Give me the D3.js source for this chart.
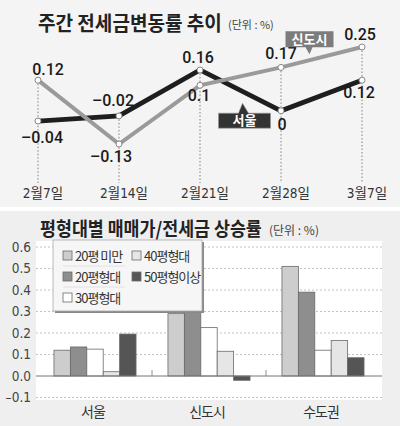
<!DOCTYPE html>
<html>
<head>
<meta charset="utf-8">
<script src="https://cdn.jsdelivr.net/npm/d3@7"></script>
<style>
    html, body { margin: 0; padding: 0; background: #fff; }
    text { font-family: "Noto Sans CJK KR", sans-serif; }
    .num { font-family: Roboto, "Liberation Sans", sans-serif; font-weight: 500; }
    .cond { font-family: "Liberation Sans Narrow", "DejaVu Sans Condensed", "Noto Sans CJK KR", sans-serif; font-stretch: condensed; }
</style>
</head>
<body>
<div id="draw"></div>
<script>
// weekly jeonse change (top)
var weeks = ['2월7일', '2월14일', '2월21일', '2월28일', '3월7일'];
var seoul = [-0.04, -0.02, 0.16, 0, 0.12];
var newTown = [0.12, -0.13, 0.1, 0.17, 0.25];

// rise by apartment size (bottom)
var regions = ['서울', '신도시', '수도권'];
var sizes = ['20평 미만', '20평형대', '30평형대', '40평형대', '50평형이상'];
var under20 = [0.12, 0.29, 0.51];
var size20s = [0.135, 0.34, 0.39];
var size30s = [0.125, 0.225, 0.12];
var size40s = [0.02, 0.115, 0.165];
var over50 = [0.195, -0.02, 0.085];
var yTicks = [-0.1, 0.0, 0.1, 0.2, 0.3, 0.4, 0.5, 0.6];

(function () {
    "use strict";

    var W = 400, H = 426;

    var svg = d3.select('#draw').append('svg')
        .attr('width', W).attr('height', H);

    // panels
    svg.append('rect').attr('x', 0).attr('y', 0).attr('width', W).attr('height', 207).attr('fill', '#f4f4f4');
    svg.append('rect').attr('x', 0).attr('y', 211).attr('width', W).attr('height', H - 211).attr('fill', '#efefef');

    /**
     * Bold headline squeezed horizontally to a given width
     */
    function headline(g, str, x0, y0, size, width) {
        var t = g.append('text')
            .attr('font-size', size).attr('font-weight', 700).attr('fill', '#222')
            .text(str);
        var len = t.node().getComputedTextLength(),
            sx = len > 0 ? width / len : 1;
        t.attr('transform', 'translate(' + x0 + ',' + y0 + ') scale(' + sx + ',1)');
        return t;
    }

    /* ---------- top: line chart ---------- */
    var top = svg.append('g');

    headline(top, '주간 전세금변동률 추이', 38, 31, 20, 184);
    top.append('text').attr('x', 228).attr('y', 29)
        .attr('font-size', 11).attr('fill', '#444')
        .text('(단위 : %)');

    var x = d3.scalePoint().domain(weeks).range([38, 362]);
    var y = d3.scaleLinear().domain([-0.13, 0.25]).range([144, 47]);

    // dotted guides
    top.selectAll('line.guide').data(weeks).enter().append('line')
        .attr('x1', function (d) { return x(d); })
        .attr('x2', function (d) { return x(d); })
        .attr('y1', function (d, i) { return Math.min(y(seoul[i]), y(newTown[i])); })
        .attr('y2', 183)
        .attr('stroke', '#666').attr('stroke-width', 0.8)
        .attr('stroke-dasharray', '1.5,2');

    top.selectAll('text.week').data(weeks).enter().append('text')
        .attr('class', 'cond')
        .attr('x', function (d) { return x(d) + 5; })
        .attr('y', 198)
        .attr('text-anchor', 'middle')
        .attr('font-size', 13.5).attr('fill', '#333')
        .text(function (d) { return d; });

    var line = d3.line()
        .x(function (d, i) { return x(weeks[i]); })
        .y(function (d) { return y(d); });

    top.append('path').datum(seoul).attr('d', line)
        .attr('fill', 'none').attr('stroke', '#1e1e1e').attr('stroke-width', 4.8)
        .attr('stroke-linejoin', 'miter');
    top.append('path').datum(newTown).attr('d', line)
        .attr('fill', 'none').attr('stroke', '#9a9a9a').attr('stroke-width', 4)
        .attr('stroke-linejoin', 'miter');

    [seoul, newTown].forEach(function (s) {
        top.selectAll(null).data(s).enter().append('circle')
            .attr('cx', function (d, i) { return x(weeks[i]); })
            .attr('cy', function (d) { return y(d); })
            .attr('r', 3)
            .attr('fill', '#fff').attr('stroke', '#888').attr('stroke-width', 1);
    });

    // label nudges: [dx, dy]
    var seoulOff = [[4, 22], [-6, -10], [-2, -7], [1, 19], [-3, 18]];
    var newTownOff = [[10, -5], [-8, 18], [-1, 16], [0, -8], [-2, -7]];

    function fmt(v) {
        return v < 0 ? '–' + String(-v) : String(v);
    }

    [[seoul, seoulOff], [newTown, newTownOff]].forEach(function (p) {
        top.selectAll(null).data(p[0]).enter().append('text')
            .attr('class', 'num')
            .attr('x', function (d, i) { return x(weeks[i]) + p[1][i][0]; })
            .attr('y', function (d, i) { return y(d) + p[1][i][1]; })
            .attr('text-anchor', 'middle')
            .attr('font-size', 16).attr('fill', '#1a1a1a')
            .text(fmt);
    });

    // callouts
    var cx1 = (x(weeks[3]) + x(weeks[4])) / 2 - 12;
    var cy1 = y(0.19);
    var tag1 = top.append('g').attr('transform', 'translate(' + cx1 + ',' + cy1 + ')');
    tag1.append('path')
        .attr('d', 'M-24,-31 H24 V-15 H3 L0,-8 L-4,-15 H-24 Z')
        .attr('fill', '#7c7c7c');
    tag1.append('text').attr('x', 0).attr('y', -18.5)
        .attr('text-anchor', 'middle').attr('font-size', 13).attr('font-weight', 700)
        .attr('fill', '#fff').text('신도시');

    var cx2 = (x(weeks[2]) + x(weeks[3])) / 2 + 3;
    var cy2 = y(0.03);
    var tag2 = top.append('g').attr('transform', 'translate(' + cx2 + ',' + cy2 + ')');
    tag2.append('path')
        .attr('d', 'M-25,10 H-5 L-1,0 L5,10 H27 V25 H-25 Z')
        .attr('fill', '#333').attr('stroke', '#999').attr('stroke-width', 0.6);
    tag2.append('text').attr('x', 1).attr('y', 22)
        .attr('text-anchor', 'middle').attr('font-size', 13).attr('font-weight', 700)
        .attr('fill', '#fff').text('서울');

    /* ---------- bottom: grouped bars ---------- */
    var bot = svg.append('g');

    headline(bot, '평형대별 매매가/전세금 상승률', 40, 236, 19, 222);
    bot.append('text').attr('x', 269).attr('y', 235)
        .attr('font-size', 12).attr('fill', '#444')
        .text('(단위 : %)');

    var plot = { left: 36, right: 382, top: 241, bottom: 400 };
    bot.append('rect')
        .attr('x', plot.left).attr('y', plot.top)
        .attr('width', plot.right - plot.left).attr('height', plot.bottom - plot.top)
        .attr('fill', '#fff');

    var yb = d3.scaleLinear().domain([-0.1, 0.6]).range([397.5, 247]);
    var x0 = d3.scaleBand().domain(regions).range([38, 380]).paddingInner(0.28).paddingOuter(0.14);
    var x1 = d3.scaleBand().domain(sizes).range([0, x0.bandwidth()]);

    bot.selectAll('line.grid').data(yTicks.filter(function (t) { return t !== 0; })).enter().append('line')
        .attr('x1', plot.left).attr('x2', plot.right)
        .attr('y1', function (d) { return yb(d); })
        .attr('y2', function (d) { return yb(d); })
        .attr('stroke', '#aaa').attr('stroke-width', 0.7).attr('stroke-dasharray', '2,2');

    bot.selectAll('text.ytick').data(yTicks).enter().append('text')
        .attr('class', 'cond')
        .attr('x', 31).attr('y', function (d) { return yb(d) + 4.5; })
        .attr('text-anchor', 'end').attr('font-size', 13.5).attr('fill', '#444')
        .text(function (d) { return d < 0 ? '–' + (-d).toFixed(1) : d.toFixed(1); });

    var series = [under20, size20s, size30s, size40s, over50];
    var colors = ['#cdcdcd', '#8e8e8e', '#ffffff', '#e6e6e6', '#555555'];

    regions.forEach(function (r, ri) {
        bot.selectAll(null).data(series).enter().append('rect')
            .attr('x', function (s, si) { return x0(r) + x1(sizes[si]); })
            .attr('y', function (s) { return yb(Math.max(0, s[ri])); })
            .attr('width', x1.bandwidth())
            .attr('height', function (s) { return Math.abs(yb(s[ri]) - yb(0)); })
            .attr('fill', function (s, si) { return colors[si]; })
            .attr('stroke', '#6a6a6a').attr('stroke-width', 0.8);
    });

    // zero line and group dividers
    bot.append('line')
        .attr('x1', plot.left).attr('x2', plot.right)
        .attr('y1', yb(0)).attr('y2', yb(0))
        .attr('stroke', '#777').attr('stroke-width', 1);
    bot.selectAll('line.div').data(regions.slice(1)).enter().append('line')
        .attr('x1', function (d) { return x0(d) - x0.step() * x0.paddingInner() / 2; })
        .attr('x2', function (d) { return x0(d) - x0.step() * x0.paddingInner() / 2; })
        .attr('y1', yb(0) - 6).attr('y2', yb(0))
        .attr('stroke', '#777').attr('stroke-width', 0.8);

    bot.selectAll('text.region').data(regions).enter().append('text')
        .attr('x', function (d) { return x0(d) + x0.bandwidth() / 2 - 2; })
        .attr('y', 417)
        .attr('text-anchor', 'middle').attr('font-size', 14).attr('fill', '#333')
        .attr('letter-spacing', -1)
        .text(function (d) { return d; });

    // legend
    var lg = bot.append('g').attr('transform', 'translate(53,240)');
    lg.append('rect').attr('x', 2).attr('y', 2).attr('width', 149).attr('height', 71).attr('fill', '#888');
    lg.append('rect').attr('x', 0).attr('y', 0).attr('width', 149).attr('height', 71)
        .attr('fill', '#f6f6f6').attr('stroke', '#aaa').attr('stroke-width', 0.8);

    var legendPos = [[0, 0], [0, 1], [0, 2], [1, 0], [1, 1]];
    [0, 1].forEach(function (r) {
        lg.append('line')
            .attr('x1', 10).attr('x2', 72)
            .attr('y1', 26 + r * 21).attr('y2', 26 + r * 21)
            .attr('stroke', '#ddd').attr('stroke-width', 0.8);
    });
    sizes.forEach(function (s, i) {
        var gx = 10 + legendPos[i][0] * 69,
            gy = 11 + legendPos[i][1] * 21;
        lg.append('rect').attr('x', gx).attr('y', gy).attr('width', 9).attr('height', 9)
            .attr('fill', colors[i]).attr('stroke', '#6a6a6a').attr('stroke-width', 0.8);
        lg.append('text').attr('x', gx + 12).attr('y', gy + 9.5)
            .attr('font-size', 13).attr('fill', '#333').attr('letter-spacing', -1)
            .text(s);
    });
}());
</script>
</body>
</html>
